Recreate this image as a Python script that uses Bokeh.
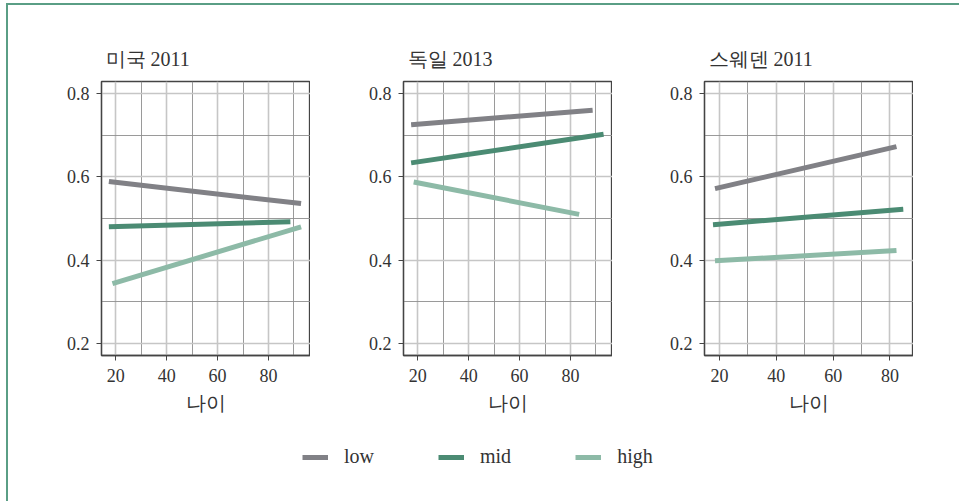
from bokeh.plotting import figure
from bokeh.layouts import column, row
from bokeh.models import FixedTicker, Range1d, Legend, LegendItem, Div
from bokeh.embed import file_html
from bokeh.resources import INLINE

# ---------------- data ----------------
panel_titles = ["미국 2011", "독일 2013", "스웨덴 2011"]
groups = ["low", "mid", "high"]
colors = {"low": "#818186", "mid": "#4b8b73", "high": "#8dbaa7"}

# each series: fitted line, start/end age and value
us_low_age = [17.3, 92.8];  us_low = [0.589, 0.536]
us_mid_age = [17.3, 88.6];  us_mid = [0.480, 0.492]
us_high_age = [18.7, 92.8]; us_high = [0.343, 0.480]

de_low_age = [17.4, 88.7];  de_low = [0.726, 0.761]
de_mid_age = [17.4, 93.0];  de_mid = [0.634, 0.703]
de_high_age = [18.4, 83.4]; de_high = [0.588, 0.510]

se_low_age = [18.4, 82.3];  se_low = [0.572, 0.673]
se_mid_age = [17.7, 84.7];  se_mid = [0.485, 0.522]
se_high_age = [18.4, 82.3]; se_high = [0.398, 0.423]

x_ticks = [20, 40, 60, 80]
x_minor = [30, 50, 70, 90]
y_ticks = [0.2, 0.4, 0.6, 0.8]
y_minor = [0.3, 0.5, 0.7]
x_label = "나이"

panel_data = [
    {"low": (us_low_age, us_low), "mid": (us_mid_age, us_mid), "high": (us_high_age, us_high)},
    {"low": (de_low_age, de_low), "mid": (de_mid_age, de_mid), "high": (de_high_age, de_high)},
    {"low": (se_low_age, se_low), "mid": (se_mid_age, se_mid), "high": (se_high_age, se_high)},
]
x_ranges = [(14.4, 96.5), (14.4, 96.5), (14.7, 88.3)]
y_range = (0.17, 0.83)

FONT = "Liberation Serif"
TXT = "#333333"
FRAME_W = 209
left_borders = [101, 93, 92]

figs = []
for title, data, xr, lb in zip(panel_titles, panel_data, x_ranges, left_borders):
    p = figure(width=lb + FRAME_W, height=416, output_backend="svg", toolbar_location=None,
               x_range=Range1d(*xr), y_range=Range1d(*y_range),
               min_border_left=lb, min_border_right=0, min_border_top=81,
               min_border_bottom=60, title=title)
    p.title.text_font = FONT
    p.title.text_font_size = "20px"
    p.title.text_font_style = "normal"
    p.title.text_color = TXT
    p.title.align = "left"
    p.title.offset = 4
    p.title.standoff = 24

    p.xaxis.ticker = FixedTicker(ticks=x_ticks, minor_ticks=x_minor)
    p.yaxis.ticker = FixedTicker(ticks=y_ticks, minor_ticks=y_minor)
    p.xaxis.axis_label = x_label
    for ax in (p.xaxis, p.yaxis):
        ax.axis_line_color = "#444444"
        ax.axis_line_width = 1.3
        ax.major_tick_line_color = "#444444"
        ax.major_tick_out = 5
        ax.major_tick_in = 0
        ax.minor_tick_out = 0
        ax.minor_tick_in = 0
        ax.major_label_text_font = FONT
        ax.major_label_text_font_size = "18px"
        ax.major_label_text_color = TXT
        ax.axis_label_text_font = FONT
        ax.axis_label_text_font_size = "20px"
        ax.axis_label_text_font_style = "normal"
        ax.axis_label_text_color = TXT
    p.xaxis.major_label_standoff = 8
    p.yaxis.major_label_standoff = 7
    p.xaxis.axis_label_standoff = 7

    for g in (p.xgrid, p.ygrid):
        g.grid_line_color = "#c6c6c6"
        g.grid_line_width = 1.6
        g.minor_grid_line_color = "#8e8e8e"
        g.minor_grid_line_width = 0.9

    p.outline_line_color = "#444444"
    p.outline_line_width = 1.3
    p.background_fill_color = "white"
    p.border_fill_color = "white"

    for grp in groups:
        xs, ys = data[grp]
        p.line(xs, ys, line_color=colors[grp], line_width=5, line_cap="butt")
    figs.append(p)

# ---------------- legend ----------------
leg = figure(width=930, height=70, output_backend="svg", toolbar_location=None,
             x_range=Range1d(1000, 1001), y_range=Range1d(0, 1),
             min_border=0, min_border_left=0, min_border_right=0,
             min_border_top=0, min_border_bottom=0)
leg.axis.visible = False
leg.grid.visible = False
leg.outline_line_color = None
items = []
for grp in groups:
    xs, ys = panel_data[0][grp]
    r = leg.line(xs, ys, line_color=colors[grp], line_width=5, line_cap="butt")
    items.append(LegendItem(label=grp, renderers=[r]))
legend = Legend(items=items, orientation="horizontal", location=(302, 18),
                padding=0, margin=0, spacing=64, glyph_width=26, glyph_height=20,
                label_standoff=16, label_height=20,
                label_text_font=FONT, label_text_font_size="20px",
                label_text_color=TXT, border_line_color=None,
                background_fill_alpha=0)
leg.add_layout(legend, "center")

frame_div = Div(width=1, height=1, text=(
    '<div style="position:fixed;left:6px;top:3px;width:1000px;height:600px;'
    'border-top:2px solid #5a9e85;border-left:2px solid #5a9e85;'
    'pointer-events:none;"></div>'))

root = column(row(*figs), leg, frame_div)

open("out.html", "w").write(file_html(root, INLINE))
